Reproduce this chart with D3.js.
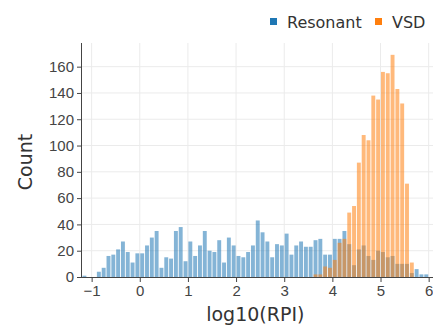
<!DOCTYPE html>
<html lang="en">
<head>
  <meta charset="UTF-8">
  <script src="https://d3js.org/d3.v7.min.js"></script>
  <style>
    body { margin: 0; background: #fff; }
    svg { display: block; font-family: "DejaVu Sans", Verdana, sans-serif; }
    .grid line { stroke: #ebebeb; stroke-width: 1px; }
    .axis path, .axis line { stroke: #444; }
    .axis text { fill: #444; font-size: 15px; }
  </style>
</head>
<body>
  <div id="chart"></div>
  <script>
    // histogram bins, 0.1 wide
    const binWidth = 0.1;
    const resonantStart = -1.2;
    const resonantCounts = [
      1, 0, 0, 4, 7, 16, 17, 21, 27, 19, 11, 18,
      18, 24, 30, 35, 7, 15, 14, 35, 38, 12,
      27, 16, 24, 35, 20, 19, 28, 11, 30, 24,
      16, 15, 19, 24, 43, 34, 27, 15, 25, 24,
      33, 17, 24, 27, 23, 23, 28, 29, 17, 17,
      29, 29, 35, 25, 9, 21, 24, 16, 13, 20,
      19, 15, 16, 10, 10, 10, 3, 6, 2, 2
    ];
    const vsdStart = 3.6;
    const vsdCounts = [
      2, 2, 8, 7,
      13, 26, 29, 49, 54, 87, 108, 104, 138, 135,
      156, 155, 169, 143, 132, 71, 11
    ];
    const xTicks = [-1, 0, 1, 2, 3, 4, 5, 6];
    const yTicks = [0, 20, 40, 60, 80, 100, 120, 140, 160];
    const series = [
      { name: 'Resonant', color: '#1f77b4', start: resonantStart, counts: resonantCounts },
      { name: 'VSD', color: '#ff7f0e', start: vsdStart, counts: vsdCounts }
    ];

    const width = 433, height = 331;
    const mLeft = 82, mRight = 433, mTop = 43, mBottom = 277;

    const svg = d3.select('#chart').append('svg')
      .attr('width', width).attr('height', height);

    const x = d3.scaleLinear().domain([-1.2, 6.09]).range([mLeft, mRight]);
    const y = d3.scaleLinear().domain([0, 178]).range([mBottom, mTop]);

    // grid
    const grid = svg.append('g').attr('class', 'grid');
    grid.selectAll('line.gx').data(xTicks).enter().append('line')
      .attr('x1', d => x(d)).attr('x2', d => x(d))
      .attr('y1', mTop).attr('y2', mBottom);
    grid.selectAll('line.gy').data(yTicks.slice(1)).enter().append('line')
      .attr('x1', mLeft).attr('x2', mRight)
      .attr('y1', d => y(d)).attr('y2', d => y(d));

    // bars (overlay)
    svg.append('clipPath').attr('id', 'plotclip')
      .append('rect').attr('x', mLeft).attr('y', mTop)
      .attr('width', mRight - mLeft).attr('height', mBottom - mTop);

    series.forEach(s => {
      const bins = s.counts.map((c, i) => ({
        x0: +(s.start + i * binWidth).toFixed(2),
        x1: +(s.start + (i + 1) * binWidth).toFixed(2),
        count: c
      })).filter(b => b.count > 0);
      svg.append('g').attr('clip-path', 'url(#plotclip)')
        .selectAll('rect').data(bins).enter().append('rect')
        .attr('x', d => x(d.x0) + 0.45)
        .attr('width', d => x(d.x1) - x(d.x0) - 0.9)
        .attr('y', d => y(d.count))
        .attr('height', d => y(0) - y(d.count))
        .attr('fill', s.color)
        .attr('fill-opacity', 0.55);
    });

    // axes
    const xAxis = d3.axisBottom(x).tickValues(xTicks).tickSize(5).tickPadding(3)
      .tickFormat(d => d < 0 ? '\u2212' + Math.abs(d) : d);
    svg.append('g').attr('class', 'axis')
      .attr('transform', `translate(0,${mBottom})`)
      .call(xAxis)
      .call(g => g.select('.domain').attr('d', `M${mLeft},0.5H${mRight}`));

    const yAxis = d3.axisLeft(y).tickValues(yTicks).tickSize(5).tickPadding(3);
    svg.append('g').attr('class', 'axis')
      .attr('transform', `translate(${mLeft},0)`)
      .call(yAxis)
      .call(g => g.select('.domain').attr('d', `M-0.5,${mTop}V${mBottom}`));

    // axis titles
    svg.append('text')
      .attr('x', x(2.4)).attr('y', 321)
      .attr('text-anchor', 'middle')
      .attr('font-size', 19).attr('fill', '#333')
      .text('log10(RPI)');
    svg.append('text')
      .attr('transform', `translate(32,${(mTop + mBottom) / 2 + 2}) rotate(-90)`)
      .attr('text-anchor', 'middle')
      .attr('font-size', 19).attr('fill', '#333')
      .text('Count');

    // legend
    const legendItems = [
      { name: 'Resonant', color: '#1f77b4', x: 270 },
      { name: 'VSD', color: '#ff7f0e', x: 375 }
    ];
    const legend = svg.append('g');
    legendItems.forEach(d => {
      legend.append('rect')
        .attr('x', d.x).attr('y', 18).attr('width', 7).attr('height', 7)
        .attr('fill', d.color);
      legend.append('text')
        .attr('x', d.x + 17).attr('y', 27.5)
        .attr('font-size', 16).attr('fill', '#333')
        .text(d.name);
    });
  </script>
</body>
</html>
